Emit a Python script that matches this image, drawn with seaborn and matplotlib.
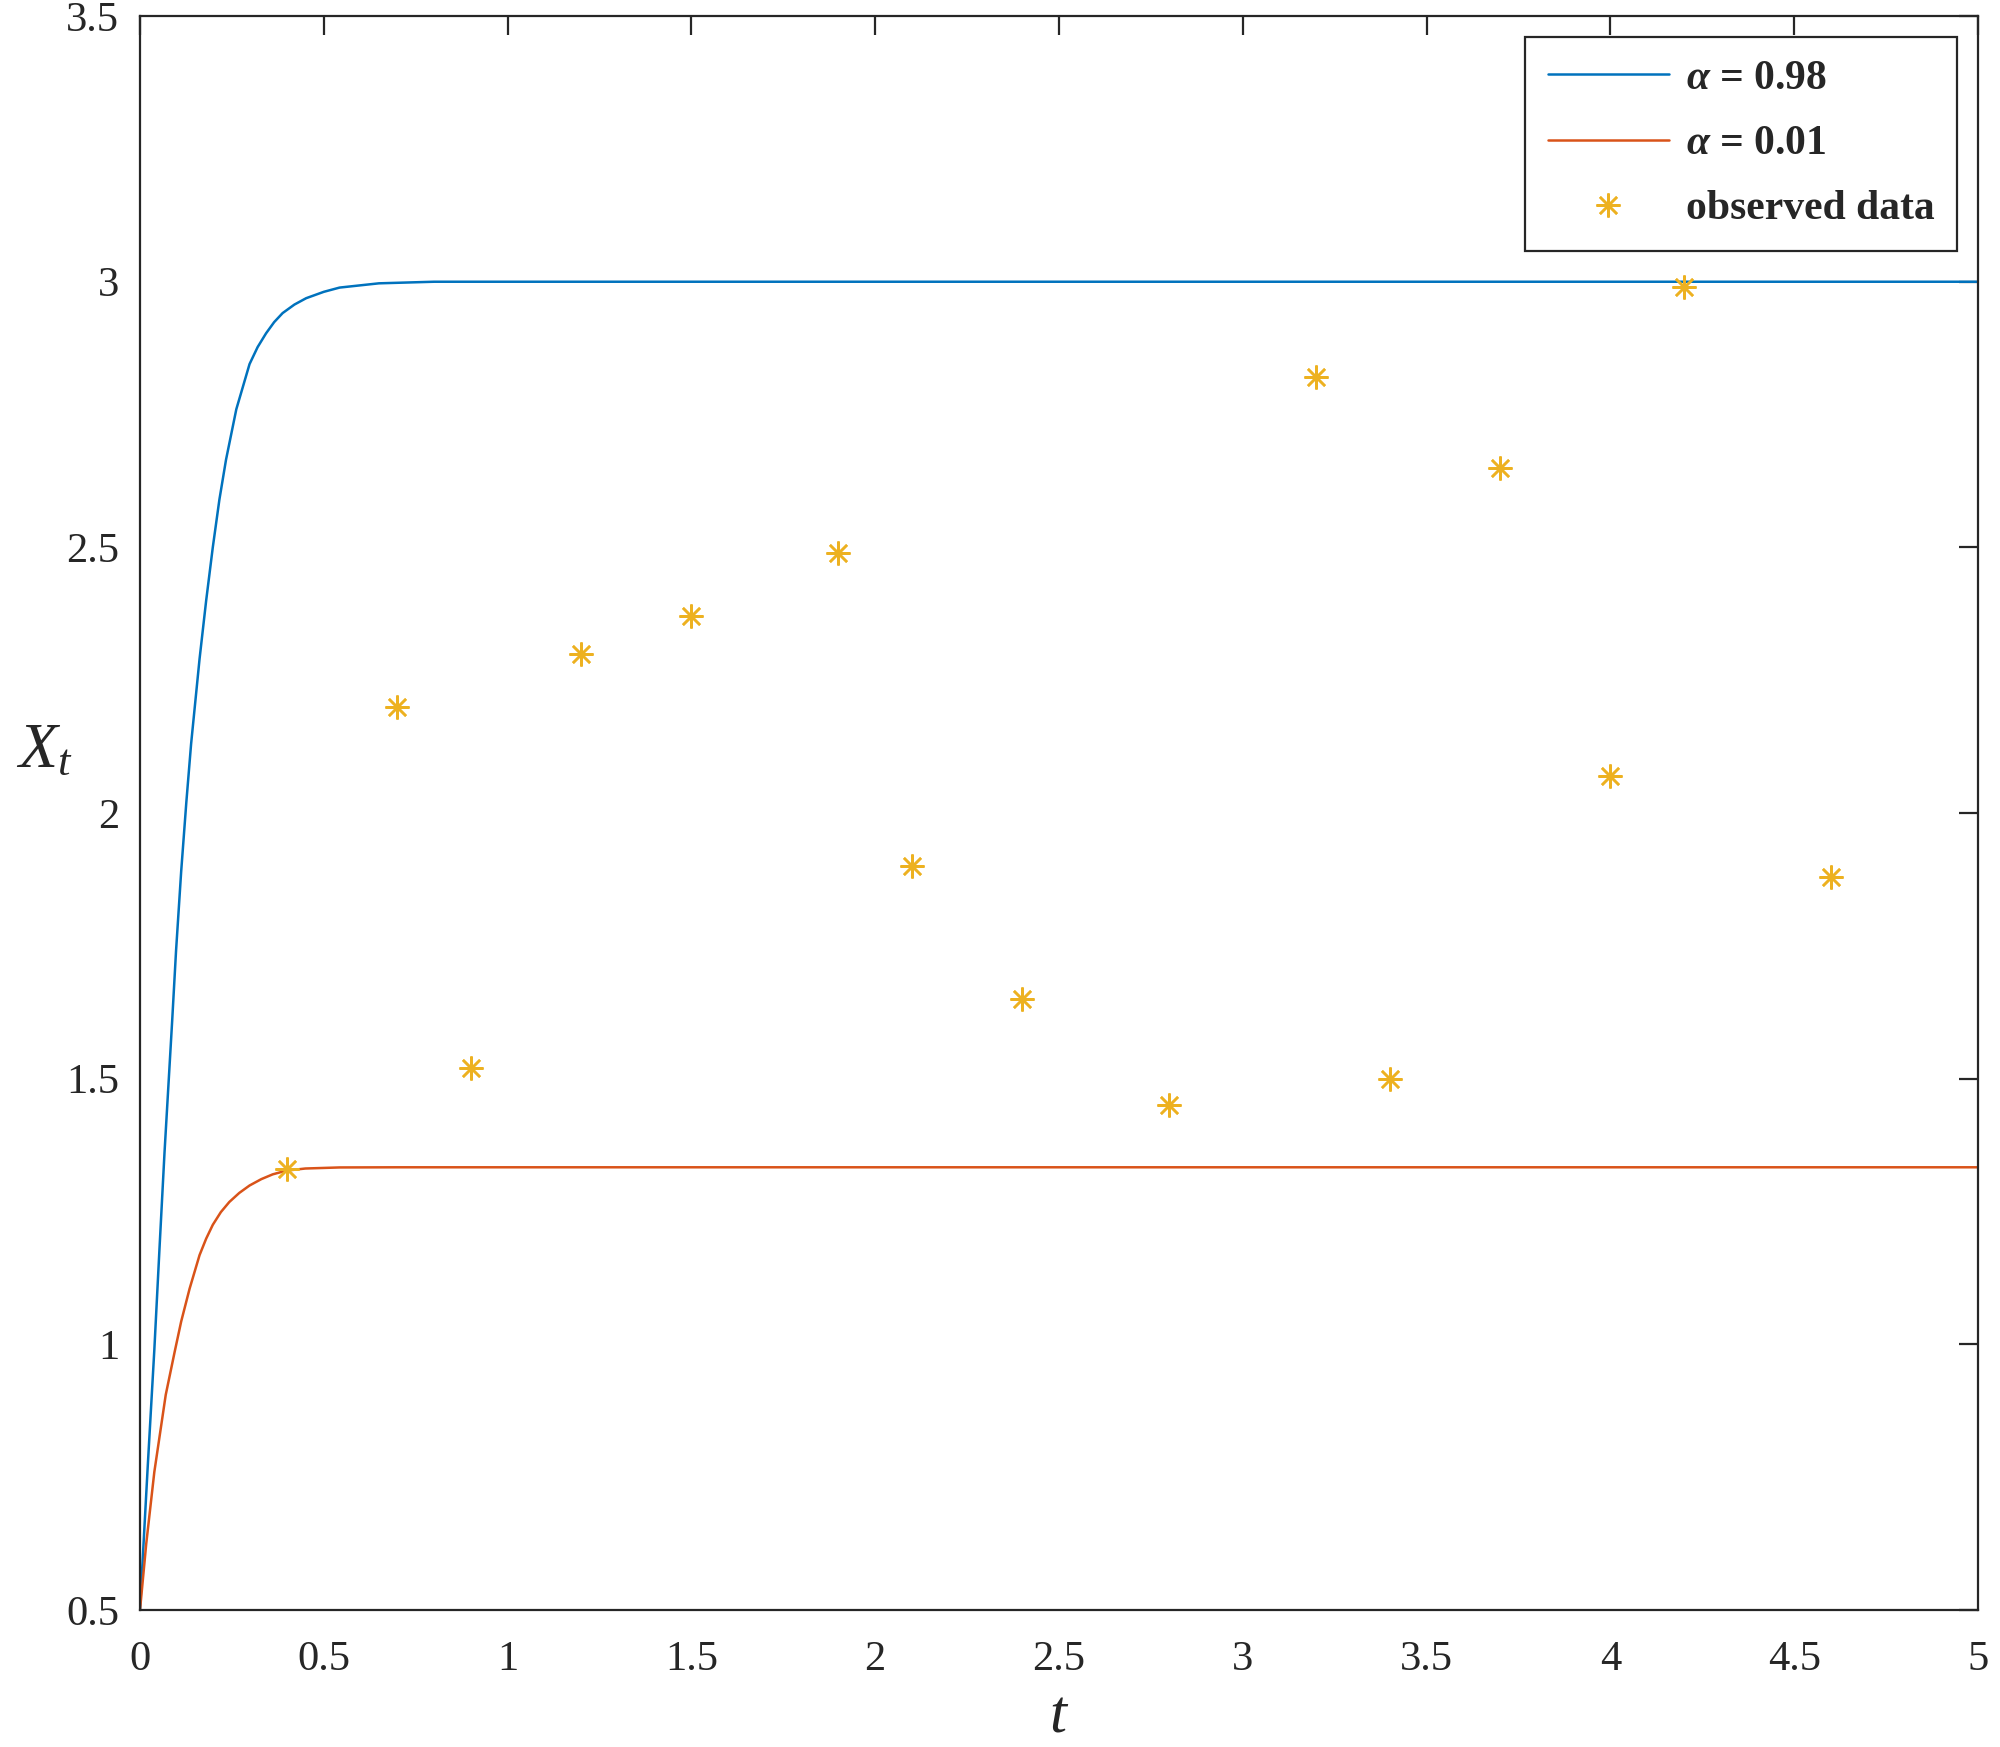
import numpy as np
import pandas as pd
import matplotlib
matplotlib.use("Agg")
import matplotlib.pyplot as plt
import seaborn as sns

# ---- data ----
t_blue = [0, 0.0077, 0.021, 0.030, 0.039, 0.053, 0.0666, 0.0876, 0.098, 0.112, 0.126,
          0.139, 0.162, 0.180, 0.198, 0.216, 0.234, 0.262, 0.298, 0.32, 0.343, 0.365,
          0.388, 0.42, 0.452, 0.5, 0.543, 0.65, 0.8, 5.0]
x_blue = [0.5, 0.60, 0.77, 0.88, 0.99, 1.18, 1.36, 1.61, 1.74, 1.89, 2.02,
          2.13, 2.29, 2.40, 2.50, 2.59, 2.665, 2.76, 2.845, 2.877, 2.903, 2.924,
          2.941, 2.957, 2.969, 2.981, 2.989, 2.997, 3.0, 3.0]

t_orange = [0, 0.017, 0.039, 0.07, 0.094, 0.112, 0.135, 0.162, 0.18, 0.198, 0.22, 0.243,
            0.27, 0.298, 0.33, 0.361, 0.398, 0.45, 0.543, 0.7, 5.0]
x_orange = [0.5, 0.625, 0.76, 0.905, 0.985, 1.043, 1.105, 1.168, 1.199, 1.225, 1.249, 1.268,
            1.285, 1.299, 1.311, 1.320, 1.327, 1.331, 1.333, 1.3333, 1.3333]

obs_t = [0.4, 0.7, 0.9, 1.2, 1.5, 1.9, 2.1, 2.4, 2.8, 3.2, 3.4, 3.7, 4.0, 4.2, 4.6]
obs_x = [1.33, 2.20, 1.52, 2.30, 2.37, 2.49, 1.90, 1.65, 1.45, 2.82, 1.50, 2.65, 2.07, 2.99, 1.88]

labels = [r"$\mathbfit{\alpha}$ = 0.98", r"$\mathbfit{\alpha}$ = 0.01", "observed data"]
xticks = [0, 0.5, 1, 1.5, 2, 2.5, 3, 3.5, 4, 4.5, 5]
xticklabels = ["0", "0.5", "1", "1.5", "2", "2.5", "3", "3.5", "4", "4.5", "5"]
yticks = [0.5, 1, 1.5, 2, 2.5, 3, 3.5]
yticklabels = ["0.5", "1", "1.5", "2", "2.5", "3", "3.5"]

# ---- style ----
sns.set_style("white")
plt.rcParams["font.family"] = ["Liberation Serif", "DejaVu Serif"]
plt.rcParams["mathtext.fontset"] = "custom"
plt.rcParams["mathtext.rm"] = "Liberation Serif"
plt.rcParams["mathtext.it"] = "Liberation Serif:italic"
plt.rcParams["mathtext.bf"] = "Liberation Serif:bold"
plt.rcParams["mathtext.bfit"] = "Liberation Serif:italic:bold"

DARK = "#262626"
BLUE = "#0072BD"
ORANGE = "#D95319"
YELLOW = "#EDB120"

fig = plt.figure(figsize=(10, 8.735), dpi=200)
ax = fig.add_axes([0.07, 0.0784, 0.919, 0.9124])

df_b = pd.DataFrame({"t": t_blue, "x": x_blue})
df_o = pd.DataFrame({"t": t_orange, "x": x_orange})
df_obs = pd.DataFrame({"t": obs_t, "x": obs_x})

sns.lineplot(data=df_b, x="t", y="x", ax=ax, color=BLUE, lw=0.9,
             estimator=None, sort=False, label=labels[0])
sns.lineplot(data=df_o, x="t", y="x", ax=ax, color=ORANGE, lw=0.9,
             estimator=None, sort=False, label=labels[1])
sns.lineplot(data=df_obs, x="t", y="x", ax=ax, color=YELLOW, linestyle="",
             marker=(8, 2, 0), markersize=8.6, markeredgewidth=0.9,
             markeredgecolor=YELLOW, estimator=None, sort=False, label=labels[2])

ax.set_xlim(0, 5)
ax.set_ylim(0.5, 3.5)
ax.set_xticks(xticks)
ax.set_xticklabels(xticklabels)
ax.set_yticks(yticks)
ax.set_yticklabels(yticklabels)

for s in ax.spines.values():
    s.set_color(DARK)
    s.set_linewidth(0.8)
    s.set_visible(True)

ax.tick_params(axis="both", direction="in", top=True, right=True, length=7,
               width=0.8, color=DARK, labelcolor=DARK, labelsize=15.3)
ax.tick_params(axis="x", pad=11)
ax.tick_params(axis="y", pad=7.5)

ax.set_xlabel(r"$t$", fontsize=22, color=DARK, va="center")
ax.xaxis.set_label_coords(0.5, -0.067)
ax.set_ylabel(r"$X_t$", fontsize=23, color=DARK, rotation=0)
ax.yaxis.set_label_coords(-0.052, 0.52)

leg = ax.legend(loc="upper right", prop={"weight": "bold", "size": 15},
                frameon=True, fancybox=False, edgecolor=DARK, framealpha=1,
                handlelength=2.9, handletextpad=0.4, labelspacing=0.65,
                borderaxespad=0.5, borderpad=0.55, numpoints=1)
leg.get_frame().set_linewidth(0.8)

fig.savefig("out.png", dpi=200, facecolor="white")
